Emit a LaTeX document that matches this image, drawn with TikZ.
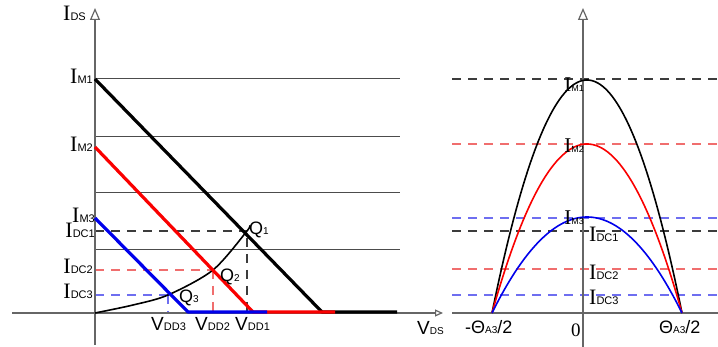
\documentclass[tikz,border=0pt]{standalone}
\usepackage{fontspec}
\setmainfont{Liberation Serif}
\setsansfont{Liberation Sans}
\usetikzlibrary{arrows.meta}
\newcommand{\IL}[1]{{\fontsize{22}{22}\selectfont I}{\sffamily\fontsize{11}{11}\selectfont #1}}
\newcommand{\ILs}[1]{{\fontsize{21}{21}\selectfont I}{\sffamily\fontsize{9}{9}\selectfont #1}}
\newcommand{\VL}[1]{{\sffamily\fontsize{19}{19}\selectfont V}{\sffamily\fontsize{11}{11}\selectfont #1}}
\newcommand{\VS}[1]{{\sffamily\fontsize{19}{19}\selectfont V}{\sffamily\fontsize{10}{10}\selectfont #1}}
\newcommand{\QL}[1]{{\sffamily\fontsize{18}{18}\selectfont Q}{\sffamily\fontsize{10}{10}\selectfont #1}}
\newcommand{\TL}[3]{{\sffamily\fontsize{18}{18}\selectfont #1\char"0398}{\sffamily\fontsize{10}{10}\selectfont #2}{\sffamily\fontsize{18}{18}\selectfont #3}}
\definecolor{dred}{RGB}{240,110,110}
\definecolor{dblue}{RGB}{110,110,240}
\definecolor{dblk}{RGB}{60,60,60}
\definecolor{pblue}{RGB}{0,0,235}
\definecolor{pred}{RGB}{250,0,0}
\begin{document}
\begin{tikzpicture}[x=1pt,y=-1pt,
  axisline/.style={draw=black!60,line width=1.2pt},
  gridline/.style={draw=black!70,line width=1pt},
  dsh/.style={line width=1.3pt,dash pattern=on 9pt off 7pt},
  thk/.style={line width=3.2pt,line join=round},
  curve/.style={line width=1.6pt},
  lbl/.style={inner sep=0pt,anchor=base east},
  lblw/.style={inner sep=0pt,anchor=base west},
  bigtip/.style={-{Triangle[open,length=12pt,width=10pt]}},
  smalltip/.style={-{Triangle[open,length=8pt,width=7pt]}}]
\useasboundingbox (0,0) rectangle (718,347);
\fill[white] (0,0) rectangle (718,347);

% ---------- left panel ----------
\draw[gridline] (95,79) -- (400,79);
\draw[gridline] (95,137) -- (400,137);
\draw[gridline] (95,193) -- (400,193);
\draw[gridline] (95,250) -- (400,250);

\draw[dsh,dblk] (95,231) -- (247,231);
\draw[dsh,dblk] (247,238) -- (247,313);
\draw[dsh,dred] (95,270) -- (213,270);
\draw[dsh,dred] (213,270) -- (213,313);
\draw[dsh,dblue] (95,295) -- (168,295);
\draw[dsh,dblue] (168,295) -- (168,313);

\draw[axisline,bigtip] (95,345) -- (95,8);
\draw[axisline,smalltip] (12,313) -- (443,313);

\draw[curve,black] plot[smooth] coordinates {(95,313) (133,305) (168,295) (213,270) (247,231) (249,226)};

\draw[thk,black] (95,79) -- (322,312) -- (397,312);
\draw[thk,pred] (95,147) -- (253,312) -- (335,312);
\draw[thk,pblue] (95,218) -- (188,312) -- (267,312);

\node[lbl] (ids) at (86,21) {\IL{DS}};
\node[lbl] (im1) at (93,84) {\IL{M1}};
\node[lbl] (im2) at (93,152) {\IL{M2}};
\node[lbl] (im3) at (95,223) {\IL{M3}};
\node[lbl] (idc1) at (95,238) {\IL{DC1}};
\node[lbl] (idc2) at (93,274) {\IL{DC2}};
\node[lbl] (idc3) at (93,299) {\IL{DC3}};
\node[lblw] (q1) at (249,235) {\QL{1}};
\node[lblw] (q2) at (220,282) {\QL{2}};
\node[lblw] (q3) at (179,303) {\QL{3}};
\node[lblw] (vdd3) at (151,331) {\VL{DD3}};
\node[lblw] (vdd2) at (195,331) {\VL{DD2}};
\node[lblw] (vdd1) at (235,331) {\VL{DD1}};
\node[lblw] (vds) at (417,335) {\VS{DS}};

% ---------- right panel ----------
\draw[dsh,dblk] (452,79) -- (718,79);
\draw[dsh,dred] (452,144) -- (718,144);
\draw[dsh,dblue] (452,218) -- (718,218);
\draw[dsh,dblk] (452,231) -- (718,231);
\draw[dsh,dred] (452,269) -- (718,269);
\draw[dsh,dblue] (452,295) -- (718,295);

\node[lblw] (zero) at (571,337) {\fontsize{19}{19}\selectfont 0};

\draw[axisline] (452,313) -- (718,313);
\draw[axisline,bigtip] (583,347) -- (583,8);

\draw[curve,black] plot[domain=-95:95,samples=80] ({587+\x},{313-233*(1-(\x/95)^2)});
\draw[curve,pred] plot[domain=-95:95,samples=80] ({587+\x},{313-169*(1-(\x/95)^2)});
\draw[curve,pblue] plot[domain=-95:95,samples=80] ({587+\x},{313-96*(1-(\x/95)^2)});

\node[lbl] (rim1) at (584,92) {\ILs{M1}};
\node[lbl] (rim2) at (584,153) {\ILs{M2}};
\node[lbl] (rim3) at (584,225) {\ILs{M3}};
\node[lblw] (ridc1) at (589,242) {\IL{DC1}};
\node[lblw] (ridc2) at (589,280) {\IL{DC2}};
\node[lblw] (ridc3) at (589,305) {\IL{DC3}};
\node[lblw] (tl) at (465,334) {\TL{-}{A3}{/2}};
\node[lblw] (tr) at (659,334) {\TL{}{A3}{/2}};
\end{tikzpicture}
\end{document}
